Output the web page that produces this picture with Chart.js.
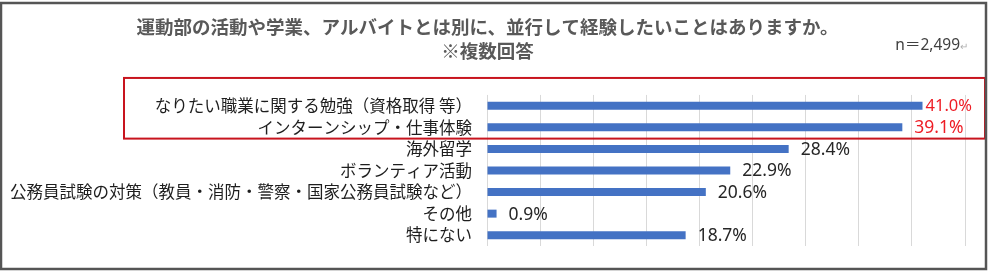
<!DOCTYPE html>
<html>
<head>
<meta charset="utf-8">
<script src="https://cdn.jsdelivr.net/npm/chart.js@4/dist/chart.umd.min.js"></script>
<style>
  html, body { margin: 0; padding: 0; background: #ffffff; }
  #wrap { width: 1003px; height: 273px; position: relative; }
</style>
</head>
<body>
<div id="wrap"><canvas id="c" width="1003" height="273"></canvas></div>
<script>
const categories = [
  "なりたい職業に関する勉強（資格取得 等）",
  "インターンシップ・仕事体験",
  "海外留学",
  "ボランティア活動",
  "公務員試験の対策（教員・消防・警察・国家公務員試験など）",
  "その他",
  "特にない"
];
const values = [41.0, 39.1, 28.4, 22.9, 20.6, 0.9, 18.7];
const titleLines = [
  "運動部の活動や学業、アルバイトとは別に、並行して経験したいことはありますか。",
  "※複数回答"
];
const sampleNote = "n＝2,499";
const highlightedRows = 2;

const JP = "'Noto Sans CJK JP', 'Noto Sans', sans-serif";
const NUM = "'Noto Sans', 'Noto Sans CJK JP', sans-serif";

const decor = {
  id: 'decor',
  afterDraw(chart) {
    const ctx = chart.ctx;
    const y = chart.scales.y;
    ctx.save();
    // value labels
    const meta = chart.getDatasetMeta(0);
    ctx.textBaseline = 'middle';
    ctx.textAlign = 'left';
    meta.data.forEach((bar, i) => {
      const txt = values[i].toFixed(1) + '%';
      let size = 17.5;
      ctx.font = size + "px " + NUM;
      let w = ctx.measureText(txt).width;
      let tx = bar.x + 12;
      if (tx + w > 972) {
        tx = bar.x + 3;
        while (tx + w > 972 && size > 12) {
          size -= 0.5;
          ctx.font = size + "px " + NUM;
          w = ctx.measureText(txt).width;
        }
      }
      ctx.fillStyle = i < highlightedRows ? '#ee1c25' : '#262626';
      ctx.fillText(txt, tx, bar.y + 1);
    });
    // red highlight box
    const rowH = Math.abs(y.getPixelForValue(1) - y.getPixelForValue(0));
    const top = y.getPixelForValue(0) - rowH / 2 - 17;
    const bottom = y.getPixelForValue(highlightedRows - 1) + rowH / 2 + 0.5;
    ctx.strokeStyle = '#c8141e';
    ctx.lineWidth = 2;
    ctx.strokeRect(124, top, 861, bottom - top);
    // n note
    ctx.font = "15.5px " + NUM;
    ctx.fillStyle = '#404040';
    ctx.textAlign = 'right';
    ctx.fillText(sampleNote, 960, 46);
    ctx.font = "10px " + NUM;
    ctx.fillStyle = '#b0b0b0';
    ctx.textAlign = 'left';
    ctx.fillText('↵', 960, 47);
    // outer border
    ctx.strokeStyle = '#555555';
    ctx.lineWidth = 2.5;
    ctx.strokeRect(1, 3, 985, 266);
    ctx.restore();
  }
};

new Chart(document.getElementById('c'), {
  type: 'bar',
  data: {
    labels: categories,
    datasets: [{
      data: values,
      backgroundColor: '#4472c4',
      borderWidth: 0,
      categoryPercentage: 1.0,
      barPercentage: 0.37
    }]
  },
  options: {
    indexAxis: 'y',
    responsive: false,
    animation: false,
    devicePixelRatio: 1,
    layout: { padding: { left: 10, right: 38, top: 0, bottom: 27 } },
    plugins: {
      legend: { display: false },
      tooltip: { enabled: false },
      title: {
        display: true,
        text: titleLines,
        color: '#595959',
        font: { family: JP, size: 18.5, weight: 'bold', lineHeight: 1.35 },
        padding: { top: 14, bottom: 31 }
      }
    },
    scales: {
      x: {
        min: 0,
        max: 45,
        ticks: { display: false, stepSize: 5 },
        grid: { color: '#d9d9d9', lineWidth: 1, drawTicks: false },
        border: { display: false }
      },
      y: {
        ticks: {
          color: '#1e1e1e',
          font: { family: JP, size: 16.5 },
          padding: 15,
          autoSkip: false
        },
        grid: { display: false, drawTicks: false },
        border: { display: false },
        afterFit(scale) { scale.width = 477; }
      }
    }
  },
  plugins: [decor]
});
</script>
</body>
</html>
